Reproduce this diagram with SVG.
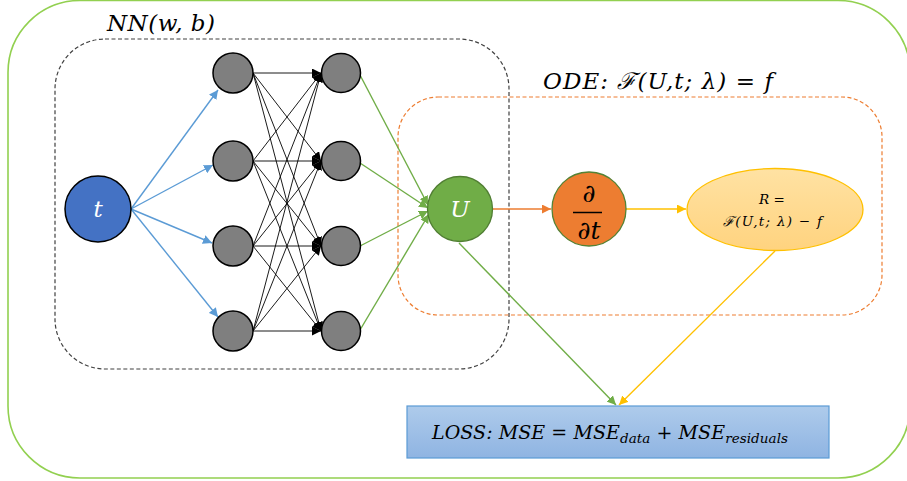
<svg xmlns="http://www.w3.org/2000/svg" width="907" height="481" viewBox="0 0 907 481">
<defs>
<style>
.math{font-family:"DejaVu Serif","Liberation Serif",serif;font-style:italic;}
.hid{fill:#7f7f7f;stroke:#000;stroke-width:1.5;}
.nn{stroke:#000;stroke-width:0.9;fill:none;}
.blue{stroke:#5b9bd5;stroke-width:1.4;fill:none;}
.green{stroke:#70ad47;stroke-width:1.4;fill:none;}
.orange{stroke:#ed7d31;stroke-width:1.4;fill:none;}
.yellow{stroke:#ffc000;stroke-width:1.4;fill:none;}
</style>
<marker id="mBlue" viewBox="0 0 10 10" refX="10" refY="5" markerWidth="9" markerHeight="9" markerUnits="userSpaceOnUse" orient="auto"><path d="M0,0 L10,5 L0,10 z" fill="#5b9bd5"/></marker>
<marker id="mGreen" viewBox="0 0 10 10" refX="10" refY="5" markerWidth="9" markerHeight="9" markerUnits="userSpaceOnUse" orient="auto"><path d="M0,0 L10,5 L0,10 z" fill="#70ad47"/></marker>
<marker id="mBlack" viewBox="0 0 10 10" refX="10" refY="5" markerWidth="9" markerHeight="9" markerUnits="userSpaceOnUse" orient="auto"><path d="M0,0 L10,5 L0,10 z" fill="#000"/></marker>
<marker id="mOrange" viewBox="0 0 10 10" refX="10" refY="5" markerWidth="9" markerHeight="9" markerUnits="userSpaceOnUse" orient="auto"><path d="M0,0 L10,5 L0,10 z" fill="#ed7d31"/></marker>
<marker id="mYellow" viewBox="0 0 10 10" refX="10" refY="5" markerWidth="9" markerHeight="9" markerUnits="userSpaceOnUse" orient="auto"><path d="M0,0 L10,5 L0,10 z" fill="#ffc000"/></marker>
<linearGradient id="gLoss" x1="0" y1="0" x2="0" y2="1"><stop offset="0" stop-color="#aecbeb"/><stop offset="1" stop-color="#8fb4e2"/></linearGradient>
<linearGradient id="gR" x1="0" y1="0" x2="0" y2="1"><stop offset="0" stop-color="#ffe2a3"/><stop offset="1" stop-color="#ffd37f"/></linearGradient>
</defs>

<g id="frames">
<rect x="8" y="0.5" width="902" height="477.5" rx="72" ry="72" fill="none" stroke="#92d050" stroke-width="1.6"/>
<rect id="nn-box" x="55" y="39" width="454" height="330" rx="50" ry="50" fill="none" stroke="#404040" stroke-width="1.2" stroke-dasharray="4,2.5"/>
<rect id="ode-box" x="398" y="97" width="484" height="218" rx="40" ry="40" fill="none" stroke="#ed7d31" stroke-width="1.2" stroke-dasharray="4,2.5"/>
<text class="math" x="107" y="31" font-size="23" textLength="108" lengthAdjust="spacing">NN(w, b)</text>
<text class="math" x="543" y="89" font-size="23" textLength="230" lengthAdjust="spacing">ODE: ℱ(U,t; λ) = f</text>
</g>

<g id="connectors">
<line class="blue" x1="131" y1="209" x2="218" y2="90" marker-end="url(#mBlue)"/>
<line class="blue" x1="131" y1="209" x2="213" y2="165" marker-end="url(#mBlue)"/>
<line class="blue" x1="131" y1="209" x2="212" y2="243" marker-end="url(#mBlue)"/>
<line class="blue" x1="131" y1="209" x2="218" y2="317" marker-end="url(#mBlue)"/>

<line class="nn" x1="253" y1="73" x2="321" y2="73" marker-end="url(#mBlack)"/>
<line class="nn" x1="253" y1="73" x2="321" y2="161" marker-end="url(#mBlack)"/>
<line class="nn" x1="253" y1="73" x2="321" y2="246" marker-end="url(#mBlack)"/>
<line class="nn" x1="253" y1="73" x2="321" y2="331" marker-end="url(#mBlack)"/>
<line class="nn" x1="253" y1="161" x2="321" y2="73" marker-end="url(#mBlack)"/>
<line class="nn" x1="253" y1="161" x2="321" y2="161" marker-end="url(#mBlack)"/>
<line class="nn" x1="253" y1="161" x2="321" y2="246" marker-end="url(#mBlack)"/>
<line class="nn" x1="253" y1="161" x2="321" y2="331" marker-end="url(#mBlack)"/>
<line class="nn" x1="253" y1="246" x2="321" y2="73" marker-end="url(#mBlack)"/>
<line class="nn" x1="253" y1="246" x2="321" y2="161" marker-end="url(#mBlack)"/>
<line class="nn" x1="253" y1="246" x2="321" y2="246" marker-end="url(#mBlack)"/>
<line class="nn" x1="253" y1="246" x2="321" y2="331" marker-end="url(#mBlack)"/>
<line class="nn" x1="253" y1="331" x2="321" y2="73" marker-end="url(#mBlack)"/>
<line class="nn" x1="253" y1="331" x2="321" y2="161" marker-end="url(#mBlack)"/>
<line class="nn" x1="253" y1="331" x2="321" y2="246" marker-end="url(#mBlack)"/>
<line class="nn" x1="253" y1="331" x2="321" y2="331" marker-end="url(#mBlack)"/>

<line class="green" x1="360" y1="75" x2="428" y2="205" marker-end="url(#mGreen)"/>
<line class="green" x1="360" y1="163" x2="428" y2="208" marker-end="url(#mGreen)"/>
<line class="green" x1="360" y1="246" x2="428" y2="211" marker-end="url(#mGreen)"/>
<line class="green" x1="360" y1="330" x2="429" y2="214" marker-end="url(#mGreen)"/>

<line class="orange" x1="493" y1="209" x2="551" y2="209" marker-end="url(#mOrange)"/>
<line class="yellow" x1="626" y1="209" x2="686" y2="209" marker-end="url(#mYellow)"/>

<line class="green" x1="459" y1="243" x2="616" y2="405" marker-end="url(#mGreen)"/>
<line class="yellow" x1="775" y1="251" x2="619" y2="405" marker-end="url(#mYellow)"/>
</g>

<g id="node-t">
<circle cx="98" cy="209" r="33" fill="#4472c4" stroke="#000" stroke-width="1.5"/>
<text class="math" x="98" y="217" font-size="23" fill="#fff" text-anchor="middle">t</text>
</g>

<g id="node-h1-1"><circle class="hid" cx="233" cy="73" r="20"/></g>
<g id="node-h1-2"><circle class="hid" cx="233" cy="161" r="20"/></g>
<g id="node-h1-3"><circle class="hid" cx="233" cy="246" r="20"/></g>
<g id="node-h1-4"><circle class="hid" cx="233" cy="331" r="20"/></g>
<g id="node-h2-1"><circle class="hid" cx="341" cy="73" r="19.5"/></g>
<g id="node-h2-2"><circle class="hid" cx="341" cy="161" r="19.5"/></g>
<g id="node-h2-3"><circle class="hid" cx="341" cy="246" r="19.5"/></g>
<g id="node-h2-4"><circle class="hid" cx="341" cy="331" r="19.5"/></g>

<g id="node-U">
<circle cx="460" cy="209" r="32.5" fill="#70ad47" stroke="#507e32" stroke-width="1.3"/>
<text class="math" x="460" y="217" font-size="23" fill="#fff" text-anchor="middle">U</text>
</g>

<g id="node-ddt">
<circle cx="589" cy="209" r="37" fill="#ed7d31" stroke="#548235" stroke-width="1.3"/>
<text class="math" x="589" y="202" font-size="25" fill="#000" text-anchor="middle">∂</text>
<line x1="573" y1="212.5" x2="602" y2="212.5" stroke="#000" stroke-width="1.5"/>
<text class="math" x="589" y="239" font-size="25" fill="#000" text-anchor="middle">∂t</text>
</g>

<g id="node-R">
<ellipse cx="775" cy="209.5" rx="88" ry="41" fill="url(#gR)" stroke="#ffc000" stroke-width="1.3"/>
<text class="math" x="772" y="204" font-size="13.5" text-anchor="middle">R =</text>
<text class="math" x="723" y="226" font-size="13.5" textLength="99" lengthAdjust="spacing">ℱ(U,t; λ) − f</text>
</g>

<g id="node-loss">
<rect x="407" y="406" width="422" height="52" fill="url(#gLoss)" stroke="#5b9bd5" stroke-width="1.2"/>
<text class="math" x="432" y="439" font-size="19" textLength="356" lengthAdjust="spacing">LOSS: MSE = MSE<tspan font-size="13.5" dy="4">data</tspan><tspan dy="-4">  +  MSE</tspan><tspan font-size="13.5" dy="4">residuals</tspan></text>
</g>
</svg>
